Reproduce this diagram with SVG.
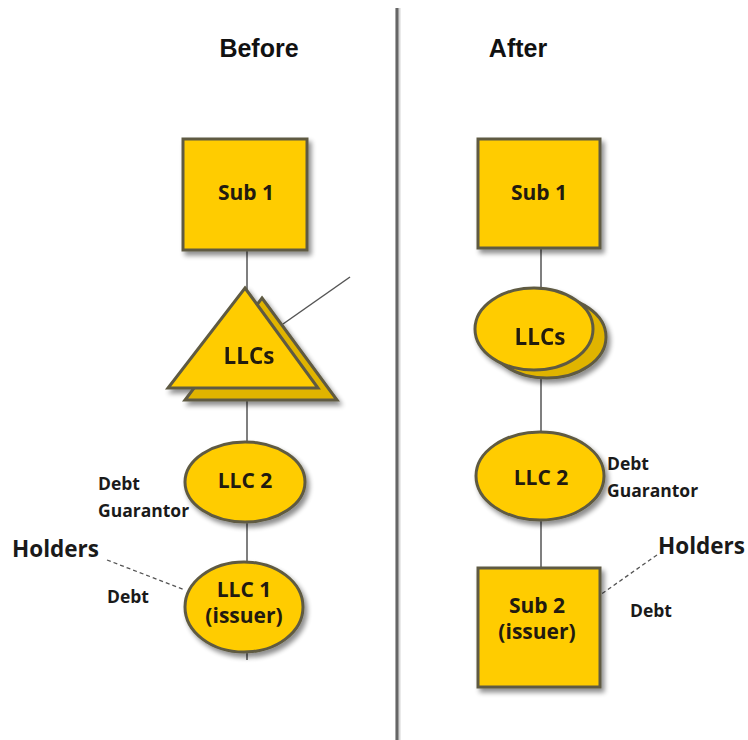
<svg xmlns="http://www.w3.org/2000/svg" width="748" height="740" viewBox="0 0 748 740">
<defs>
<filter id="sh" x="-20%" y="-20%" width="150%" height="150%">
<feGaussianBlur in="SourceAlpha" stdDeviation="2.5"/>
<feOffset dx="3" dy="4" result="b"/>
<feComponentTransfer><feFuncA type="linear" slope="0.45"/></feComponentTransfer>
<feMerge><feMergeNode/><feMergeNode in="SourceGraphic"/></feMerge>
</filter>
<style>
.shape{fill:#FFCC00;stroke:#5E5A42;stroke-width:3}
.back{fill:#E0B400;stroke:#5E5A42;stroke-width:3}
.conn{stroke:#555;stroke-width:1.5;fill:none}
.dash{stroke:#555;stroke-width:1.3;stroke-dasharray:4 3;fill:none}
.t{font-family:"Open Sans","Liberation Sans",sans-serif;font-weight:bold;font-size:21px;fill:#221a10;text-anchor:middle}
.big{font-size:22.5px}
.lbl{font-family:"Open Sans","Liberation Sans",sans-serif;font-weight:bold;font-size:17.5px;fill:#1a1a1a}
.hold{font-family:"Open Sans","Liberation Sans",sans-serif;font-weight:bold;font-size:22.5px;fill:#1a1a1a}
.title{font-family:"Liberation Sans",Arial,sans-serif;font-weight:bold;font-size:25px;fill:#111;text-anchor:middle}
</style>
</defs>
<rect width="748" height="740" fill="#fff"/>
<g id="divider"><line x1="398" y1="8" x2="398" y2="740" stroke="#d6d6d6" stroke-width="5"/><line x1="397" y1="8" x2="397" y2="740" stroke="#666" stroke-width="3"/></g>
<text class="title" x="259" y="57">Before</text>
<text class="title" x="518" y="57">After</text>
<g id="connectors">
<line class="conn" x1="247" y1="250" x2="247" y2="290"/>
<line class="conn" x1="283" y1="324" x2="350" y2="277"/>
<line class="conn" x1="247" y1="398" x2="247" y2="443"/>
<line class="conn" x1="247" y1="522" x2="247" y2="563"/>
<line class="conn" x1="247" y1="652" x2="247" y2="660"/>
<line class="dash" x1="107" y1="560" x2="185" y2="590"/>
<line class="conn" x1="541" y1="248" x2="541" y2="290"/>
<line class="conn" x1="541" y1="376" x2="541" y2="433"/>
<line class="conn" x1="541" y1="520" x2="541" y2="568"/>
<line class="dash" x1="657" y1="555" x2="600" y2="595"/>
</g>
<g id="b-sub1"><rect class="shape" x="183" y="139" width="124" height="111" filter="url(#sh)"/><text class="t" x="246" y="200">Sub 1</text></g>
<g id="b-llcs" filter="url(#sh)"><polygon class="back" points="262,298 337,400 185,400"/><polygon class="shape" points="245,288 318,388 168,388"/><text class="t big" x="249" y="364">LLCs</text></g>
<g id="b-llc2"><ellipse class="shape" cx="245" cy="482" rx="60" ry="40" filter="url(#sh)"/><text class="t" x="245" y="488">LLC 2</text></g>
<g id="b-llc1"><ellipse class="shape" cx="244" cy="607" rx="59" ry="45" filter="url(#sh)"/><text class="t" x="244" y="597">LLC 1</text><text class="t" x="244" y="623">(issuer)</text></g>
<text class="lbl" x="98" y="490">Debt</text>
<text class="lbl" x="98" y="517">Guarantor</text>
<text class="hold" x="12" y="557">Holders</text>
<text class="lbl" x="107" y="603">Debt</text>
<g id="a-sub1"><rect class="shape" x="478" y="139" width="122" height="109" filter="url(#sh)"/><text class="t" x="539" y="200">Sub 1</text></g>
<g id="a-llcs" filter="url(#sh)"><ellipse class="back" cx="547" cy="337" rx="59" ry="41"/><ellipse class="shape" cx="534" cy="329" rx="59" ry="41"/><text class="t big" x="540" y="345">LLCs</text></g>
<g id="a-llc2"><ellipse class="shape" cx="540" cy="476" rx="64" ry="44" filter="url(#sh)"/><text class="t" x="541" y="485">LLC 2</text></g>
<g id="a-sub2"><rect class="shape" x="478" y="568" width="122" height="119" filter="url(#sh)"/><text class="t" x="537" y="613">Sub 2</text><text class="t" x="537" y="639">(issuer)</text></g>
<text class="lbl" x="607" y="470">Debt</text>
<text class="lbl" x="607" y="497">Guarantor</text>
<text class="hold" x="658" y="554">Holders</text>
<text class="lbl" x="630" y="617">Debt</text>
</svg>
